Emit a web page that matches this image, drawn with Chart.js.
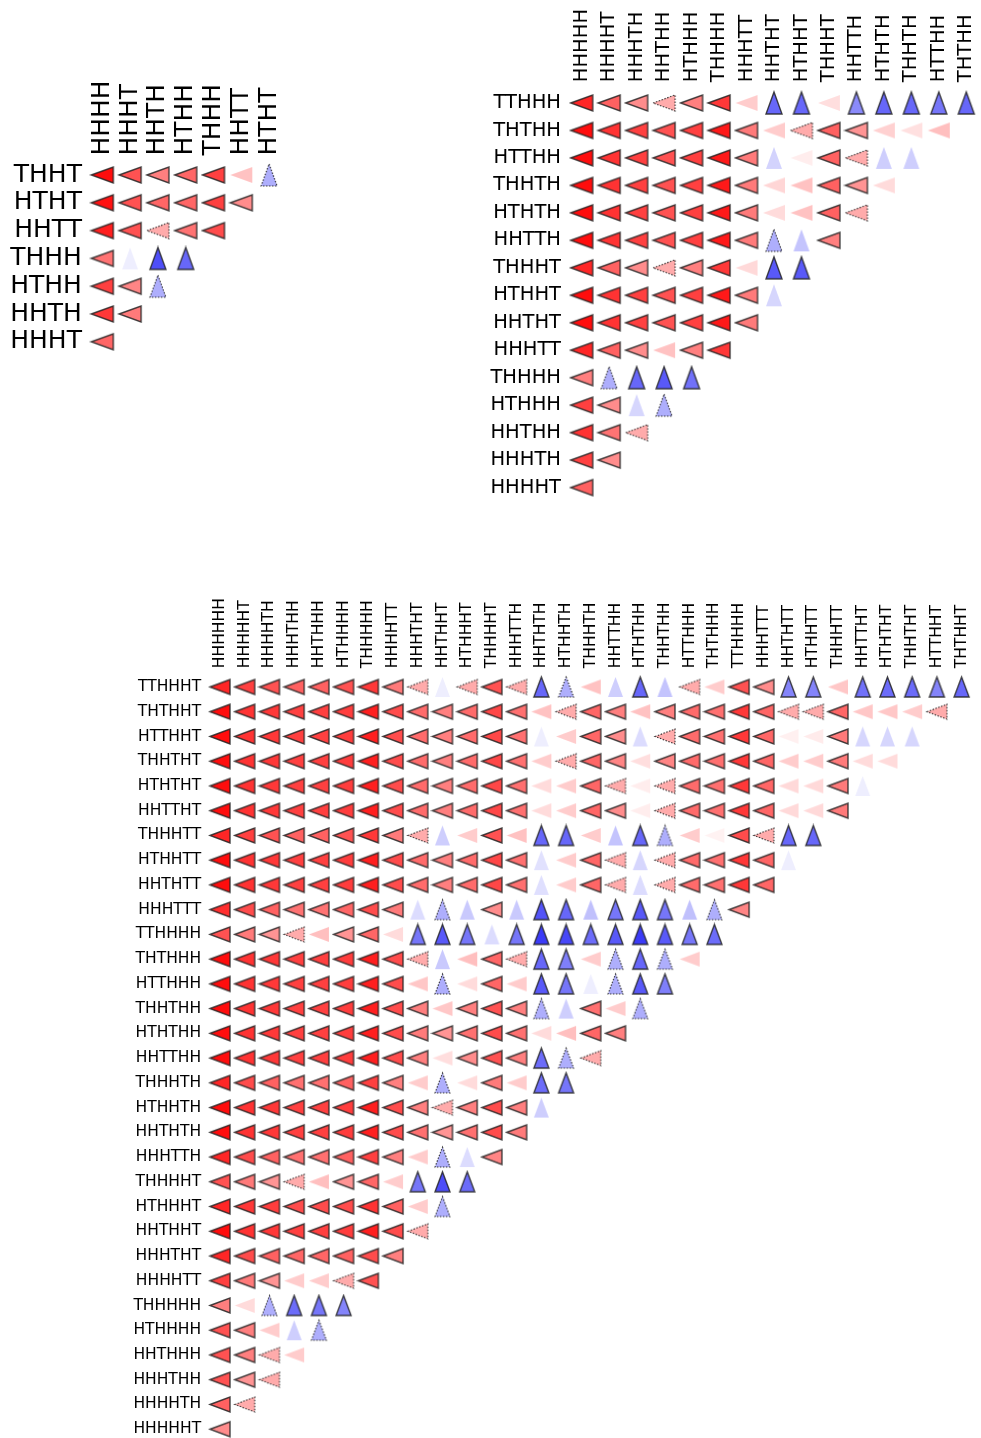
<!DOCTYPE html>
<html>
<head>
<meta charset="utf-8">
<script src="https://cdn.jsdelivr.net/npm/chart.js@4.4.0/dist/chart.umd.min.js"></script>
<style>
  html, body { margin: 0; padding: 0; background: #fff; overflow: hidden; }
  canvas { position: absolute; }
</style>
</head>
<body>
<canvas id="c4"></canvas>
<canvas id="c5"></canvas>
<canvas id="c6"></canvas>
<script>
// negative = red left-pointing mark, positive = blue upward mark, magnitude = strength
const rows4 = ['THHT', 'HTHT', 'HHTT', 'THHH', 'HTHH', 'HHTH', 'HHHT'];
const cols4 = ['HHHH', 'HHHT', 'HHTH', 'HTHH', 'THHH', 'HHTT', 'HTHT'];
const vals4 = [
  [-0.95, -0.68, -0.5, -0.6, -0.75, -0.24, 0.33],
  [-0.93, -0.68, -0.6, -0.6, -0.75, -0.45],
  [-0.88, -0.68, -0.33, -0.55, -0.7],
  [-0.55, 0.07, 0.72, 0.62],
  [-0.75, -0.48, 0.33],
  [-0.78, -0.52],
  [-0.6]
];

const rows5 = ['TTHHH', 'THTHH', 'HTTHH', 'THHTH', 'HTHTH', 'HHTTH', 'THHHT', 'HTHHT',
  'HHTHT', 'HHHTT', 'THHHH', 'HTHHH', 'HHTHH', 'HHHTH', 'HHHHT'];
const cols5 = ['HHHHH', 'HHHHT', 'HHHTH', 'HHTHH', 'HTHHH', 'THHHH', 'HHHTT', 'HHTHT',
  'HTHHT', 'THHHT', 'HHTTH', 'HTHTH', 'THHTH', 'HTTHH', 'THTHH'];
const vals5 = [
  [-0.85, -0.62, -0.45, -0.33, -0.5, -0.78, -0.2, 0.62, 0.62, -0.13, 0.48, 0.62, 0.62, 0.56, 0.62],
  [-0.95, -0.8, -0.75, -0.68, -0.75, -0.9, -0.52, -0.2, -0.33, -0.62, -0.42, -0.18, -0.12, -0.25],
  [-0.95, -0.8, -0.75, -0.68, -0.75, -0.9, -0.52, 0.18, -0.07, -0.62, -0.33, 0.2, 0.2],
  [-0.95, -0.8, -0.75, -0.68, -0.75, -0.9, -0.52, -0.16, -0.24, -0.62, -0.42, -0.14],
  [-0.95, -0.8, -0.75, -0.68, -0.75, -0.9, -0.52, -0.14, -0.24, -0.62, -0.33],
  [-0.95, -0.8, -0.75, -0.68, -0.75, -0.9, -0.52, 0.33, 0.24, -0.5],
  [-0.85, -0.62, -0.45, -0.33, -0.5, -0.78, -0.15, 0.68, 0.68],
  [-0.95, -0.8, -0.75, -0.68, -0.75, -0.9, -0.52, 0.17],
  [-0.95, -0.8, -0.75, -0.68, -0.75, -0.9, -0.52],
  [-0.85, -0.62, -0.45, -0.24, -0.5, -0.78],
  [-0.5, 0.33, 0.62, 0.68, 0.58],
  [-0.75, -0.45, 0.17, 0.33],
  [-0.8, -0.55, -0.33],
  [-0.75, -0.45],
  [-0.62]
];

const rows6 = ['TTHHHT', 'THTHHT', 'HTTHHT', 'THHTHT', 'HTHTHT', 'HHTTHT', 'THHHTT', 'HTHHTT',
  'HHTHTT', 'HHHTTT', 'TTHHHH', 'THTHHH', 'HTTHHH', 'THHTHH', 'HTHTHH', 'HHTTHH', 'THHHTH',
  'HTHHTH', 'HHTHTH', 'HHHTTH', 'THHHHT', 'HTHHHT', 'HHTHHT', 'HHHTHT', 'HHHHTT', 'THHHHH',
  'HTHHHH', 'HHTHHH', 'HHHTHH', 'HHHHTH', 'HHHHHT'];
const cols6 = ['HHHHHH', 'HHHHHT', 'HHHHTH', 'HHHTHH', 'HHTHHH', 'HTHHHH', 'THHHHH', 'HHHHTT',
  'HHHTHT', 'HHTHHT', 'HTHHHT', 'THHHHT', 'HHHTTH', 'HHTHTH', 'HTHHTH', 'THHHTH', 'HHTTHH',
  'HTHTHH', 'THHTHH', 'HTTHHH', 'THTHHH', 'TTHHHH', 'HHHTTT', 'HHTHTT', 'HTHHTT', 'THHHTT',
  'HHTTHT', 'HTHTHT', 'THHTHT', 'HTTHHT', 'THTHHT'];
const vals6 = [
  [-0.85, -0.75, -0.68, -0.62, -0.62, -0.68, -0.78, -0.52, -0.33, 0.07, -0.33, -0.68, -0.33, 0.62, 0.33, -0.24, 0.2, 0.62, 0.24, -0.33, -0.2, -0.68, -0.45, 0.5, 0.5, -0.22, 0.58, 0.6, 0.6, 0.5, 0.62],
  [-0.95, -0.8, -0.78, -0.75, -0.75, -0.76, -0.88, -0.7, -0.58, -0.5, -0.58, -0.72, -0.56, -0.24, -0.33, -0.6, -0.5, -0.24, -0.5, -0.58, -0.56, -0.78, -0.6, -0.33, -0.33, -0.6, -0.22, -0.22, -0.2, -0.33],
  [-0.95, -0.8, -0.78, -0.75, -0.75, -0.76, -0.88, -0.7, -0.58, -0.5, -0.58, -0.72, -0.56, 0.07, -0.2, -0.6, -0.45, 0.14, -0.33, -0.58, -0.56, -0.78, -0.6, -0.06, -0.08, -0.52, 0.17, 0.17, 0.17],
  [-0.95, -0.8, -0.78, -0.75, -0.75, -0.76, -0.88, -0.7, -0.58, -0.5, -0.58, -0.72, -0.56, -0.2, -0.33, -0.6, -0.48, -0.13, -0.48, -0.58, -0.56, -0.78, -0.6, -0.2, -0.2, -0.52, -0.14, -0.14],
  [-0.95, -0.8, -0.78, -0.75, -0.75, -0.76, -0.88, -0.7, -0.58, -0.5, -0.58, -0.72, -0.56, -0.14, -0.2, -0.6, -0.33, -0.07, -0.33, -0.58, -0.56, -0.78, -0.6, -0.15, -0.15, -0.52, 0.07],
  [-0.95, -0.8, -0.78, -0.75, -0.75, -0.76, -0.88, -0.7, -0.58, -0.5, -0.58, -0.72, -0.56, -0.14, -0.2, -0.6, -0.45, -0.07, -0.33, -0.58, -0.56, -0.78, -0.6, -0.15, -0.15, -0.52],
  [-0.85, -0.75, -0.68, -0.62, -0.62, -0.68, -0.78, -0.52, -0.33, 0.2, -0.2, -0.68, -0.24, 0.62, 0.62, -0.2, 0.24, 0.62, 0.33, -0.2, -0.05, -0.7, -0.33, 0.62, 0.62],
  [-0.95, -0.8, -0.78, -0.75, -0.75, -0.76, -0.88, -0.7, -0.58, -0.5, -0.58, -0.72, -0.56, 0.12, -0.2, -0.6, -0.33, 0.17, -0.33, -0.58, -0.56, -0.78, -0.6, 0.07],
  [-0.95, -0.8, -0.78, -0.75, -0.75, -0.76, -0.88, -0.7, -0.58, -0.5, -0.58, -0.72, -0.56, 0.13, -0.2, -0.6, -0.33, 0.14, -0.33, -0.58, -0.56, -0.78, -0.6],
  [-0.82, -0.7, -0.62, -0.55, -0.55, -0.6, -0.7, -0.52, 0.14, 0.33, 0.22, -0.45, 0.22, 0.7, 0.62, 0.26, 0.56, 0.68, 0.56, 0.26, 0.33, -0.48],
  [-0.68, -0.52, -0.42, -0.33, -0.25, -0.42, -0.6, -0.14, 0.56, 0.68, 0.56, 0.14, 0.56, 0.8, 0.75, 0.6, 0.68, 0.8, 0.68, 0.56, 0.6],
  [-0.95, -0.8, -0.78, -0.75, -0.75, -0.76, -0.88, -0.7, -0.33, 0.22, -0.25, -0.6, -0.33, 0.62, 0.52, -0.2, 0.33, 0.62, 0.33, -0.2],
  [-0.95, -0.8, -0.78, -0.75, -0.75, -0.76, -0.88, -0.7, -0.22, 0.33, -0.14, -0.6, -0.2, 0.68, 0.56, 0.07, 0.33, 0.68, 0.52],
  [-0.95, -0.8, -0.78, -0.75, -0.75, -0.76, -0.88, -0.7, -0.5, -0.22, -0.5, -0.68, -0.5, 0.33, 0.2, -0.56, -0.2, 0.33],
  [-0.95, -0.8, -0.78, -0.75, -0.75, -0.76, -0.88, -0.7, -0.52, -0.42, -0.56, -0.7, -0.56, -0.14, -0.25, -0.6, -0.5],
  [-0.95, -0.8, -0.78, -0.75, -0.75, -0.76, -0.88, -0.7, -0.5, -0.13, -0.45, -0.68, -0.5, 0.6, 0.33, -0.33],
  [-0.85, -0.7, -0.62, -0.56, -0.56, -0.62, -0.75, -0.5, -0.2, 0.33, -0.14, -0.52, -0.2, 0.6, 0.56],
  [-0.95, -0.8, -0.78, -0.75, -0.75, -0.76, -0.88, -0.7, -0.5, -0.33, -0.5, -0.7, -0.5, 0.2],
  [-0.95, -0.8, -0.78, -0.75, -0.75, -0.76, -0.88, -0.7, -0.56, -0.42, -0.56, -0.7, -0.52],
  [-0.85, -0.7, -0.62, -0.56, -0.56, -0.62, -0.75, -0.5, -0.2, 0.33, 0.14, -0.48],
  [-0.68, -0.52, -0.42, -0.33, -0.25, -0.42, -0.6, -0.2, 0.56, 0.72, 0.6],
  [-0.85, -0.78, -0.76, -0.7, -0.7, -0.7, -0.8, -0.62, -0.2, 0.33],
  [-0.95, -0.8, -0.78, -0.75, -0.75, -0.76, -0.88, -0.7, -0.33],
  [-0.85, -0.7, -0.62, -0.6, -0.6, -0.62, -0.7, -0.5],
  [-0.75, -0.52, -0.42, -0.2, -0.2, -0.33, -0.68],
  [-0.5, -0.14, 0.33, 0.6, 0.56, 0.5],
  [-0.68, -0.5, -0.2, 0.2, 0.33],
  [-0.68, -0.5, -0.33, -0.2],
  [-0.68, -0.42, -0.33],
  [-0.62, -0.33],
  [-0.45]
];

// marker images, cached by look
const markCache = {};
function mark(v, len, base) {
  const key = v + '|' + len + '|' + base;
  if (markCache[key]) return markCache[key];
  const a = Math.abs(v);
  const left = v < 0;
  const pad = 2;
  const c = document.createElement('canvas');
  c.width = (left ? len : base) + pad * 2;
  c.height = (left ? base : len) + pad * 2;
  const g = c.getContext('2d');
  const w = c.width, h = c.height;
  g.beginPath();
  if (left) {
    g.moveTo(pad, h / 2);
    g.lineTo(w - pad, pad);
    g.lineTo(w - pad, h - pad);
  } else {
    g.moveTo(w / 2, pad);
    g.lineTo(w - pad, h - pad);
    g.lineTo(pad, h - pad);
  }
  g.closePath();
  g.fillStyle = left ? 'rgba(255,0,0,' + a + ')' : 'rgba(10,10,245,' + a + ')';
  g.fill();
  if (a >= 0.38) {
    g.strokeStyle = 'rgba(35,35,35,0.85)';
    g.lineWidth = 1.4;
    g.stroke();
  } else if (a >= 0.28) {
    g.setLineDash([1.5, 1.5]);
    g.strokeStyle = 'rgba(30,30,30,0.9)';
    g.lineWidth = 1.1;
    g.stroke();
  }
  markCache[key] = c;
  return c;
}

function noPad(s) {
  s.paddingLeft = 0; s.paddingRight = 0; s.paddingTop = 0; s.paddingBottom = 0;
}

function drawPanel(id, rows, cols, vals, p) {
  const cv = document.getElementById(id);
  cv.width = p.w; cv.height = p.h;
  cv.style.left = p.left + 'px'; cv.style.top = p.top + 'px';
  const pts = [];
  vals.forEach((row, i) => row.forEach((v, j) => pts.push({ x: j, y: i, v: v })));
  const font = { family: 'DejaVu Sans', size: p.font };

  new Chart(cv.getContext('2d'), {
    type: 'scatter',
    data: {
      datasets: [{
        data: pts,
        clip: false,
        pointRadius: 10,
        pointHoverRadius: 10,
        pointStyle: c => mark(c.raw.v, p.len, p.base)
      }]
    },
    options: {
      responsive: false,
      animation: false,
      events: [],
      layout: { padding: 0, autoPadding: false },
      plugins: { legend: { display: false }, tooltip: { enabled: false } },
      scales: {
        x: {
          type: 'linear',
          position: 'top',
          min: -0.5,
          max: -0.5 + (p.w - p.yw) / p.cx,
          grid: { display: false, drawTicks: false },
          border: { display: false },
          afterBuildTicks: s => { s.ticks = cols.map((_, k) => ({ value: k })); },
          afterFit: s => { s.height = p.xh; noPad(s); },
          ticks: {
            autoSkip: false, minRotation: 90, maxRotation: 90, padding: p.padX,
            labelOffset: p.font * 1.2,
            color: '#000', font: font,
            callback: v => cols[v]
          }
        },
        y: {
          type: 'linear',
          reverse: true,
          min: -0.5,
          max: -0.5 + (p.h - p.xh) / p.cy,
          grid: { display: false, drawTicks: false },
          border: { display: false },
          afterBuildTicks: s => { s.ticks = rows.map((_, k) => ({ value: k })); },
          afterFit: s => { s.width = p.yw; noPad(s); },
          ticks: {
            autoSkip: false, padding: p.padY,
            color: '#000', font: font,
            callback: v => rows[v]
          }
        }
      }
    }
  });
}

drawPanel('c4', rows4, cols4, vals4,
  { left: 0, top: 0, w: 300, h: 372, yw: 88.4, xh: 161.1, cx: 27.8, cy: 27.8, font: 25, padX: 5.5, padY: 6.5, len: 22, base: 16 });
drawPanel('c5', rows5, cols5, vals5,
  { left: 480, top: 0, w: 501, h: 515, yw: 87.96, xh: 89.26, cx: 27.47, cy: 27.47, font: 19.5, padX: 7, padY: 7, len: 22, base: 16 });
drawPanel('c6', rows6, cols6, vals6,
  { left: 110, top: 580, w: 871, h: 858, yw: 97.64, xh: 94.63, cx: 24.72, cy: 24.74, font: 15.5, padX: 6.5, padY: 6.5, len: 20, base: 15 });
</script>
</body>
</html>
